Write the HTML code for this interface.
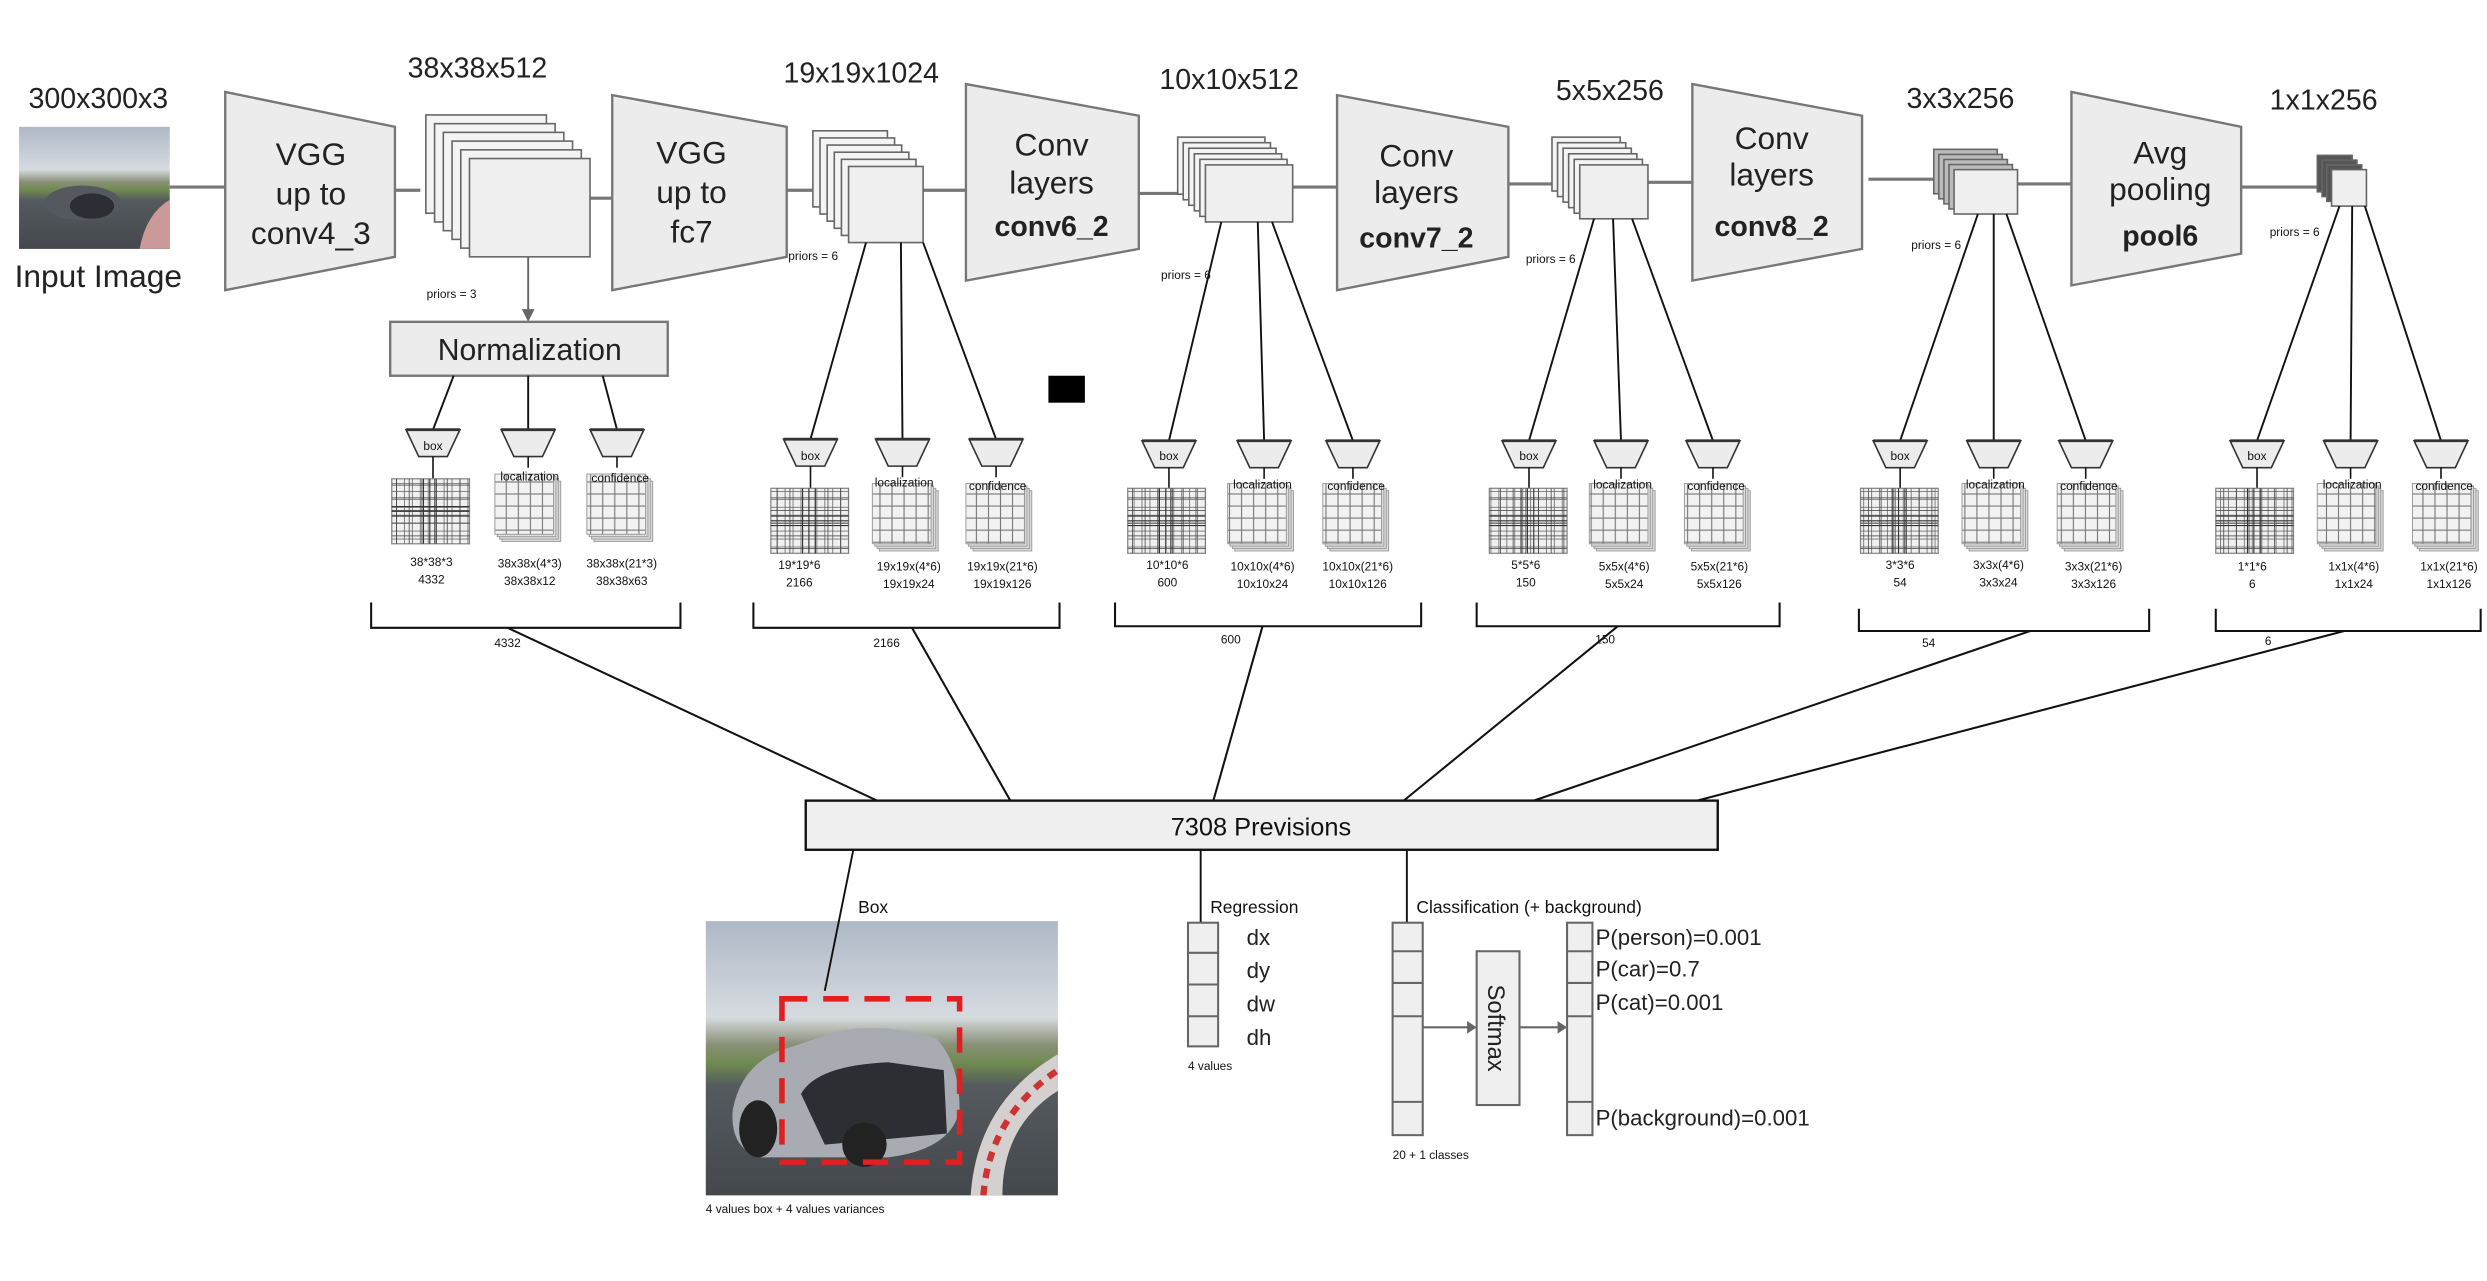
<!DOCTYPE html>
<html><head><meta charset="utf-8">
<style>
html,body{margin:0;padding:0;background:#fff;}
svg{display:block;}
.big{font-family:"Liberation Sans",sans-serif;fill:#222;}
.sm{font-family:"Liberation Sans Narrow","Liberation Sans",sans-serif;fill:#111;}
</style></head>
<body>
<svg id="s" width="2487" height="1281" viewBox="0 0 1568 808" preserveAspectRatio="none" xmlns="http://www.w3.org/2000/svg">
<defs>
<pattern id="lg" width="7.6" height="7.6" patternUnits="userSpaceOnUse"><rect width="7.6" height="7.6" fill="#f2f2f2" stroke="#777" stroke-width="0.7"/></pattern>
<pattern id="dg1" width="5" height="5" patternUnits="userSpaceOnUse"><rect width="5" height="5" fill="none" stroke="#666" stroke-width="0.5"/></pattern>
<pattern id="dg2" width="8" height="8" patternUnits="userSpaceOnUse" x="2" y="2"><rect width="8" height="8" fill="none" stroke="#444" stroke-width="0.5"/></pattern>
<linearGradient id="sky" x1="0" y1="0" x2="0" y2="1">
<stop offset="0" stop-color="#aeb8c6"/><stop offset="0.35" stop-color="#d6dbe0"/><stop offset="0.45" stop-color="#8a9078"/><stop offset="0.52" stop-color="#6e8a4e"/><stop offset="0.6" stop-color="#555a5e"/><stop offset="1" stop-color="#44484c"/></linearGradient>
</defs>
<g id="shapes" stroke="#555" fill="#ededed"></g>

<g class="big" text-anchor="middle" font-size="18">
<text x="62" y="68">300x300x3</text>
<text x="62" y="181" font-size="20">Input Image</text>
<text x="301" y="49">38x38x512</text>
<text x="543" y="52">19x19x1024</text>
<text x="775" y="56">10x10x512</text>
<text x="1015" y="63">5x5x256</text>
<text x="1236" y="68">3x3x256</text>
<text x="1465" y="69">1x1x256</text>
<g font-size="20">
<text x="196" y="104">VGG</text><text x="196" y="129">up to</text><text x="196" y="154">conv4_3</text>
<text x="436" y="103">VGG</text><text x="436" y="128">up to</text><text x="436" y="153">fc7</text>
<text x="663" y="98">Conv</text><text x="663" y="122">layers</text><text x="663" y="149" font-weight="bold" font-size="18">conv6_2</text>
<text x="893" y="105">Conv</text><text x="893" y="128">layers</text><text x="893" y="156" font-weight="bold" font-size="18">conv7_2</text>
<text x="1117" y="94">Conv</text><text x="1117" y="117">layers</text><text x="1117" y="149" font-weight="bold" font-size="18">conv8_2</text>
<text x="1362" y="103">Avg</text><text x="1362" y="126">pooling</text><text x="1362" y="155" font-weight="bold" font-size="18">pool6</text>
</g>
<text x="334" y="227" font-size="19">Normalization</text>
</g>

<g class="sm" font-size="7.5">
<text x="269" y="188">priors = 3</text>
<text x="497" y="164">priors = 6</text>
<text x="732" y="176">priors = 6</text>
<text x="962" y="166">priors = 6</text>
<text x="1205" y="157">priors = 6</text>
<text x="1431" y="149">priors = 6</text>
</g>

<g class="sm" font-size="7.5" text-anchor="middle">
<text x="273" y="284">box</text><text x="334" y="303">localization</text><text x="391" y="304">confidence</text>
<text x="272" y="357">38*38*3</text><text x="272" y="368">4332</text>
<text x="334" y="358">38x38x(4*3)</text><text x="334" y="369">38x38x12</text>
<text x="392" y="358">38x38x(21*3)</text><text x="392" y="369">38x38x63</text>
<text x="320" y="408">4332</text>

<text x="511" y="290">box</text><text x="570" y="307">localization</text><text x="629" y="309">confidence</text>
<text x="504" y="359">19*19*6</text><text x="504" y="370">2166</text>
<text x="573" y="360">19x19x(4*6)</text><text x="573" y="371">19x19x24</text>
<text x="632" y="360">19x19x(21*6)</text><text x="632" y="371">19x19x126</text>
<text x="559" y="408">2166</text>

<text x="737" y="290">box</text><text x="796" y="308">localization</text><text x="855" y="309">confidence</text>
<text x="736" y="359">10*10*6</text><text x="736" y="370">600</text>
<text x="796" y="360">10x10x(4*6)</text><text x="796" y="371">10x10x24</text>
<text x="856" y="360">10x10x(21*6)</text><text x="856" y="371">10x10x126</text>
<text x="776" y="406">600</text>

<text x="964" y="290">box</text><text x="1023" y="308">localization</text><text x="1082" y="309">confidence</text>
<text x="962" y="359">5*5*6</text><text x="962" y="370">150</text>
<text x="1024" y="360">5x5x(4*6)</text><text x="1024" y="371">5x5x24</text>
<text x="1084" y="360">5x5x(21*6)</text><text x="1084" y="371">5x5x126</text>
<text x="1012" y="406">150</text>

<text x="1198" y="290">box</text><text x="1258" y="308">localization</text><text x="1317" y="309">confidence</text>
<text x="1198" y="359">3*3*6</text><text x="1198" y="370">54</text>
<text x="1260" y="359">3x3x(4*6)</text><text x="1260" y="370">3x3x24</text>
<text x="1320" y="360">3x3x(21*6)</text><text x="1320" y="371">3x3x126</text>
<text x="1216" y="408">54</text>

<text x="1423" y="290">box</text><text x="1483" y="308">localization</text><text x="1541" y="309">confidence</text>
<text x="1420" y="360">1*1*6</text><text x="1420" y="371">6</text>
<text x="1484" y="360">1x1x(4*6)</text><text x="1484" y="371">1x1x24</text>
<text x="1544" y="360">1x1x(21*6)</text><text x="1544" y="371">1x1x126</text>
<text x="1430" y="407">6</text>
</g>

<g class="sm">
<text x="795" y="527" font-size="16" text-anchor="middle">7308 Previsions</text>
<text x="541" y="576" font-size="11">Box</text>
<text x="763" y="576" font-size="11">Regression</text>
<text x="893" y="576" font-size="11">Classification (+ background)</text>
<text x="445" y="765" font-size="7.5">4 values box + 4 values variances</text>
<text x="749" y="675" font-size="7.5">4 values</text>
<text x="878" y="731" font-size="7.5">20 + 1 classes</text>
</g>
<g class="big" font-size="14">
<text x="786" y="596">dx</text><text x="786" y="617">dy</text><text x="786" y="638">dw</text><text x="786" y="659">dh</text>
<text x="1006" y="596">P(person)=0.001</text>
<text x="1006" y="616">P(car)=0.7</text>
<text x="1006" y="637">P(cat)=0.001</text>
<text x="1006" y="710">P(background)=0.001</text>
<text x="0" y="0" font-size="15" transform="translate(938,621) rotate(90)">Softmax</text>
</g>

<script>
(function(){
var g=document.getElementById('shapes'),NS='http://www.w3.org/2000/svg';
function el(t,a,p){var e=document.createElementNS(NS,t);for(var k in a)e.setAttribute(k,a[k]);(p||g).appendChild(e);return e;}
function L(x1,y1,x2,y2,c,w){el('line',{x1:x1,y1:y1,x2:x2,y2:y2,stroke:c||'#111','stroke-width':w||1.3});}
el('rect',{x:12,y:80,width:95,height:77,fill:'url(#sky)',stroke:'none'});
el('ellipse',{cx:52,cy:128,rx:24,ry:11,fill:'#55585e',stroke:'none'});
el('ellipse',{cx:58,cy:130,rx:14,ry:8,fill:'#2c2e33',stroke:'none'});
el('path',{d:'M88 157 Q92 135 107 126 L107 157 Z',fill:'#c99',stroke:'none'});
L(107,118,142,118,'#777',2);L(249,120,265,120,'#777',2);L(372,125,387,125,'#777',2);
L(496,120,512,120,'#777',2);L(582,120,609,120,'#777',2);L(718,122,745,122,'#777',2);
L(815,118,843,118,'#777',2);L(951,116,996,116,'#777',2);L(1039,115,1067,115,'#777',2);
L(1178,113,1222,113,'#777',2);L(1272,116,1306,116,'#777',2);L(1413,118,1462,118,'#777',2);
function trap(x1,t1,b1,x2,t2,b2){el('polygon',{points:x1+','+t1+' '+x2+','+t2+' '+x2+','+b2+' '+x1+','+b1,fill:'#ececec',stroke:'#777','stroke-width':1.5});}
trap(142,58,183,249,80,162);trap(386,60,183,496,80,162);trap(609,53,177,718,73,157);
trap(843,60,183,951,80,162);trap(1067,53,177,1174,73,157);trap(1306,58,180,1413,80,160);
function stack(fx,fy,w,h,n,d,col){for(var i=n-1;i>=0;i--){el('rect',{x:fx-i*d,y:fy-i*d,width:w,height:h,fill:i==0?'#efefef':(col||'#f4f4f4'),stroke:'#666','stroke-width':1});}}
stack(296,100,76,62,6,5.5);stack(535,105,47,48,6,4.5);stack(760,104,55,36,6,3.5);
stack(996,104,43,34,6,3.5);stack(1232,107,40,28,5,3.2,'#bbb');stack(1470,107,22,23,4,3,'#555');
L(333,162,333,197,'#666',1.2);el('polygon',{points:'329,195 337,195 333,203',fill:'#666',stroke:'none'});
el('rect',{x:246,y:203,width:175,height:34,fill:'#ececec',stroke:'#777','stroke-width':1.5});
el('rect',{x:661,y:237,width:23,height:17,fill:'#000',stroke:'none'});
var G=[
 {src:[[286,237],[333,237],[380,237]],h:[273,333,389],ht:271,gy:302,gx:[247,315,373],gh:41,br:[234,429,380,396],to:[320,396,553,505]},
 {src:[[546,153],[568,153],[582,153]],h:[511,569,628],ht:277,gy:308,gx:[486,553,612],gh:41,br:[475,668,380,396],to:[575,396,637,505]},
 {src:[[770,140],[793,140],[802,140]],h:[737,797,853],ht:278,gy:308,gx:[711,777,837],gh:41,br:[703,896,380,395],to:[796,395,765,505]},
 {src:[[1005,138],[1017,138],[1029,138]],h:[964,1022,1080],ht:278,gy:308,gx:[939,1005,1065],gh:41,br:[931,1122,380,395],to:[1020,395,885,505]},
 {src:[[1247,135],[1257,135],[1265,135]],h:[1198,1257,1315],ht:278,gy:308,gx:[1173,1240,1300],gh:41,br:[1172,1355,384,398],to:[1280,398,967,505]},
 {src:[[1475,130],[1483,130],[1491,130]],h:[1423,1482,1539],ht:278,gy:308,gx:[1397,1464,1524],gh:41,br:[1397,1564,384,398],to:[1478,398,1070,505]}];
G.forEach(function(o){
 for(var k=0;k<3;k++){
  var c=o.h[k],t=o.ht;
  L(o.src[k][0],o.src[k][1],c,t,'#111',1.2);
  el('polygon',{points:(c-17)+','+t+' '+(c+17)+','+t+' '+(c+9)+','+(t+17)+' '+(c-9)+','+(t+17),fill:'#ececec',stroke:'#333','stroke-width':1});
  L(c-17,t,c+17,t,'#333',1.8);
  L(c,t+17,c,k==0?o.gy:t+24,'#111',1);
  var x=o.gx[k],y=o.gy;
  if(k==0){
   el('rect',{x:x,y:y,width:49,height:o.gh,fill:'#f0f0f0',stroke:'#888','stroke-width':0.8});
   el('rect',{x:x,y:y,width:49,height:o.gh,fill:'url(#dg1)',stroke:'none'});
   el('rect',{x:x,y:y,width:49,height:o.gh,fill:'url(#dg2)',stroke:'none'});
   for(var j=0;j<3;j++){L(x,y+o.gh/2-3+j*3,x+49,y+o.gh/2-3+j*3,'#333',0.7);L(x+20+j*4,y,x+20+j*4,y+o.gh,'#333',0.7);}
  } else {
   for(var i=3;i>=0;i--){el('rect',{x:x+i*1.5-3,y:y+i*1.5-3,width:37,height:38,fill:i==0?'url(#lg)':'#ddd',stroke:'#999','stroke-width':0.6});}
  }
 }
 var b=o.br;el('polyline',{points:b[0]+','+b[2]+' '+b[0]+','+b[3]+' '+b[1]+','+b[3]+' '+b[1]+','+b[2],fill:'none',stroke:'#111','stroke-width':1.3});
 L(o.to[0],o.to[1],o.to[2],o.to[3],'#111',1.3);
});
el('rect',{x:508,y:505,width:575,height:31,fill:'#efefef',stroke:'#111','stroke-width':1.5});
el('rect',{x:445,y:581,width:222,height:173,fill:'url(#sky)',stroke:'none'});
el('path',{d:'M462 700 Q468 668 500 660 L530 650 Q560 645 590 655 Q605 670 605 700 Q600 725 560 730 L480 730 Q460 725 462 700Z',fill:'#a8acb2',stroke:'none'});
el('path',{d:'M505 690 Q515 672 560 670 L595 675 L597 715 L520 722Z',fill:'#2c2e33',stroke:'none'});
el('ellipse',{cx:478,cy:712,rx:12,ry:18,fill:'#222',stroke:'none'});
el('ellipse',{cx:545,cy:722,rx:14,ry:14,fill:'#222',stroke:'none'});
el('path',{d:'M612 754 Q616 695 667 665 L667 688 Q632 710 632 754Z',fill:'#d4d0d0',stroke:'none'});
el('path',{d:'M620 754 Q624 704 667 675',fill:'none',stroke:'#c33','stroke-width':4,'stroke-dasharray':'6 5'});
L(538,536,520,625,'#111',1.2);
el('rect',{x:493,y:630,width:112,height:103,fill:'none',stroke:'#e02020','stroke-width':3.5,'stroke-dasharray':'16 10'});
L(757,536,757,582,'#111',1.2);
el('rect',{x:749,y:582,width:19,height:78,fill:'#efefef',stroke:'#666','stroke-width':1.3});
[601,621,641].forEach(function(y){L(749,y,768,y,'#666',1.3);});
L(887,536,887,582,'#111',1.2);
el('rect',{x:878,y:582,width:19,height:134,fill:'#efefef',stroke:'#666','stroke-width':1.3});
el('rect',{x:988,y:582,width:16,height:134,fill:'#efefef',stroke:'#666','stroke-width':1.3});
[600,620,641,695].forEach(function(y){L(878,y,897,y,'#666',1.3);L(988,y,1004,y,'#666',1.3);});
el('rect',{x:931,y:600,width:27,height:97,fill:'#efefef',stroke:'#666','stroke-width':1.3});
L(897,648,926,648,'#666',1.3);el('polygon',{points:'925,644 931,648 925,652',fill:'#666',stroke:'none'});
L(958,648,983,648,'#666',1.3);el('polygon',{points:'982,644 988,648 982,652',fill:'#666',stroke:'none'});
})();
</script>
</svg>
</body></html>
